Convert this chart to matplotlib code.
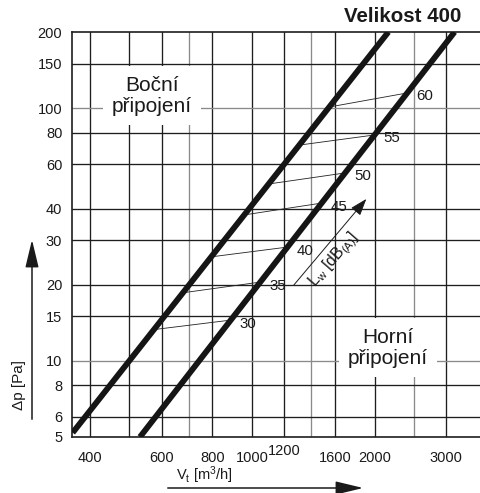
import numpy as np
import matplotlib
matplotlib.use('Agg')
import matplotlib.pyplot as plt
from matplotlib.patches import FancyArrowPatch

plt.rcParams['font.family'] = ['Liberation Sans', 'DejaVu Sans']
plt.rcParams['mathtext.fontset'] = 'custom'
plt.rcParams['mathtext.rm'] = 'Liberation Sans'
plt.rcParams['mathtext.it'] = 'Liberation Sans'
plt.rcParams['mathtext.bf'] = 'Liberation Sans:bold'

# ---------------- data ----------------
bocni_flow = [363, 2163]      # m3/h
bocni_dp = [5.2, 200]         # Pa
horni_flow = [531, 3145]
horni_dp = [5.0, 200]

noise_levels = [30, 35, 40, 45, 50, 55, 60]
noise_dp_bocni = [13.3, 18.6, 25.8, 37.8, 50.1, 71.4, 101]
noise_dp_horni = [14.5, 20.5, 28.2, 42.1, 55.4, 78.3, 114.8]

x_ticks = [400, 600, 800, 1000, 1200, 1600, 2000, 3000]
x_tick_labels = ['400', '600', '800', '1000', '', '1600', '2000', '3000']
y_ticks = [5, 6, 8, 10, 15, 20, 30, 40, 60, 80, 100, 150, 200]
y_tick_labels = [str(v) for v in y_ticks]
x_grid_dark = [400, 500, 600, 800, 1000, 1200, 1600, 2000, 3000]
x_grid_light = [700, 1400, 2500]
y_grid_dark = [6, 8, 15, 20, 30, 40, 60, 80, 150]
y_grid_light = [10, 100]

title = 'Velikost 400'
label_bocni = 'Boční\npřipojení'
label_horni = 'Horní\npřipojení'

# ---------------- figure ----------------
W, H = 481, 493
fig = plt.figure(figsize=(W / 100, H / 100), dpi=100)
ax = fig.add_axes([72 / W, 56 / H, (W - 72) / W, 405 / H])
ax.set_xscale('log')
ax.set_yscale('log')
ax.set_xlim(361.6, 3652)
ax.set_ylim(5, 200)

dark = '#1e1e1e'
light = '#8a8a8a'
for v in x_grid_dark:
    ax.axvline(v, color=dark, lw=0.95, zorder=1)
for v in x_grid_light:
    ax.axvline(v, color=light, lw=0.95, zorder=1)
for v in y_grid_dark:
    ax.axhline(v, color=dark, lw=0.95, zorder=1)
for v in y_grid_light:
    ax.axhline(v, color=light, lw=0.95, zorder=1)

ax.xaxis.set_minor_locator(plt.NullLocator())
ax.yaxis.set_minor_locator(plt.NullLocator())
ax.set_xticks(x_ticks)
ax.set_xticklabels(x_tick_labels)
ax.set_yticks(y_ticks)
ax.set_yticklabels(y_tick_labels)
ax.tick_params(axis='both', length=0, labelsize=10.5, colors='#1a1a1a')
ax.tick_params(axis='x', pad=10)
ax.tick_params(axis='y', pad=7)
ax.text(1200, -0.017, '1200', transform=ax.get_xaxis_transform(), ha='center',
        va='top', fontsize=10.5, color='#1a1a1a')

for s in ['left', 'bottom', 'top']:
    ax.spines[s].set_color(dark)
    ax.spines[s].set_linewidth(1.2)
ax.spines['right'].set_visible(False)

# thick characteristic lines
ax.plot(bocni_flow, bocni_dp, color='#151515', lw=4.2, solid_capstyle='butt', zorder=4)
ax.plot(horni_flow, horni_dp, color='#151515', lw=4.2, solid_capstyle='butt', zorder=4)


def flow_on(dp, flows, dps):
    return np.exp(np.interp(np.log(dp), np.log(dps), np.log(flows)))


for lvl, db, dh in zip(noise_levels, noise_dp_bocni, noise_dp_horni):
    vb = flow_on(db, bocni_flow, bocni_dp)
    vh = flow_on(dh, horni_flow, horni_dp)
    ax.plot([vb, vh], [db, dh], color='#222222', lw=0.6, zorder=3)
    ax.annotate(str(lvl), (vh, dh), xytext=(6.5, -2.5), textcoords='offset points',
                ha='left', va='center', fontsize=10.8, color='#1a1a1a', zorder=5)

# text boxes
box = dict(facecolor='white', edgecolor='none', boxstyle='square,pad=0.45')
ax.text(0.1956, 0.842, label_bocni, transform=ax.transAxes, ha='center', va='center',
        fontsize=15, linespacing=1.15, bbox=box, zorder=2, color='#1a1a1a')
ax.text(0.7726, 0.2198, label_horni, transform=ax.transAxes, ha='center', va='center',
        fontsize=15, linespacing=1.15, bbox=box, zorder=2, color='#1a1a1a')

# Lw arrow
ax.annotate('', xy=(0.724, 0.593), xytext=(0.538, 0.370), xycoords='axes fraction',
            textcoords='axes fraction',
            arrowprops=dict(arrowstyle='-|>,head_length=0.8,head_width=0.28',
                            color='#1a1a1a', lw=0.7, mutation_scale=13), zorder=5)
ax.text((334 - 72) / 409, (437 - 260) / 405, r'L$_\mathrm{w}$ [dB$_\mathrm{(A)}$]',
        transform=ax.transAxes, rotation=49, ha='center', va='center',
        fontsize=11.5, color='#1a1a1a', zorder=5)

# title
fig.text(461 / W, 1 - 17 / H, title, ha='right', va='center', fontsize=14.8,
         fontweight='bold', color='#1a1a1a')

# axis labels with arrows
fig.text(204 / W, 1 - 475 / H, r'V$_\mathrm{t}$ [m$^3$/h]', ha='center', va='center',
         fontsize=10.5, color='#1a1a1a')
fig.text(19 / W, 1 - 385 / H, 'Δp [Pa]', ha='center', va='center', rotation=90,
         fontsize=11, color='#1a1a1a')
fig.add_artist(FancyArrowPatch((165, H - 488), (366, H - 488), transform=None,
                               arrowstyle='-|>,head_length=1.0,head_width=0.24',
                               mutation_scale=17, color='#1a1a1a', lw=1.1))
fig.add_artist(FancyArrowPatch((32, H - 422), (32, H - 237), transform=None,
                               arrowstyle='-|>,head_length=1.0,head_width=0.24',
                               mutation_scale=17, color='#1a1a1a', lw=1.1))

fig.savefig('out.png', dpi=100)
